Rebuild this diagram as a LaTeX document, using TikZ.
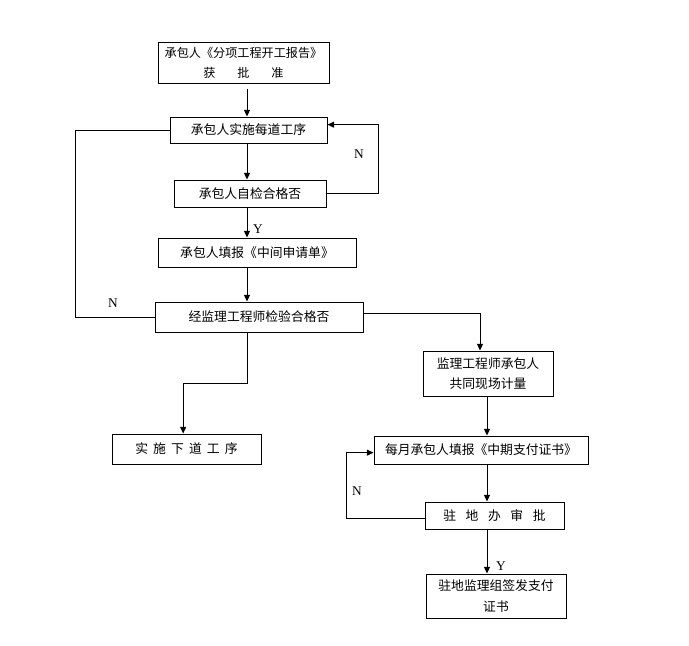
\documentclass[tikz,border=0pt]{standalone}
\usepackage{fontspec}
\setmainfont{Liberation Serif}
\newfontfamily\cjk{Noto Sans CJK SC}
\usetikzlibrary{arrows.meta}

\begin{document}
\begin{tikzpicture}[x=0.75pt,y=-0.75pt,line width=0.75pt,
    >={Triangle[length=5pt,width=4.5pt]}]

      \useasboundingbox (0,0) rectangle (689,646);
      \coordinate (col)  at (247,0);
      \coordinate (rcol) at (487,0);

      \begin{scope}[every node/.style={draw,inner sep=0pt,align=center,
          font=\cjk\fontsize{9.6}{15.5}\selectfont}]
        \node[minimum width=128.25pt,minimum height=30.75pt,font=\cjk\fontsize{9.1}{15}\selectfont] (report) at (243.5,62.5) {承包人《分项工程开工报告》\\获\hspace{1.8em}批\hspace{1.8em}准};
        \node[minimum width=117.75pt,minimum height=19.5pt]  (execute)   at (248.5,130)  {承包人实施每道工序};
        \node[minimum width=114pt,minimum height=20.25pt]    (selfcheck) at (250,193.5)  {承包人自检合格否};
        \node[minimum width=148.5pt,minimum height=21.75pt]  (apply)     at (257,252.5)  {承包人填报《中间申请单》};
        \node[minimum width=156pt,minimum height=22.5pt]     (verify)    at (259,317)    {经监理工程师检验合格否};
        \node[minimum width=97.5pt,minimum height=33.75pt]   (measure)   at (488,373.5)  {监理工程师承包人\\共同现场计量};
        \node[minimum width=111.75pt,minimum height=22.5pt]  (nextstep)  at (186.5,449)  {实\hspace{0.4em}施\hspace{0.4em}下\hspace{0.4em}道\hspace{0.4em}工\hspace{0.4em}序};
        \node[minimum width=160.5pt,minimum height=21pt]     (monthly)   at (481,450)    {每月承包人填报《中期支付证书》};
        \node[minimum width=104.25pt,minimum height=20.25pt] (approve)   at (494.5,515.5){驻\hspace{0.75em}地\hspace{0.75em}办\hspace{0.75em}审\hspace{0.75em}批};
        \node[minimum width=105pt,minimum height=33pt]       (certify)   at (496,596)    {驻地监理组签发支付\\证书};
      \end{scope}

      \begin{scope}[every node/.style={font=\fontsize{10}{12}\selectfont}]
        \node (n1) at (359,154) {N};
        \node (n2) at (113,303) {N};
        \node (n3) at (357,491) {N};
        \node (y1) at (258,229) {Y};
        \node (y2) at (501,566) {Y};
      \end{scope}

      % main column
      \draw[->] ([yshift=-4pt]report.south -| col) -- (execute.north -| col);
      \draw[->] (execute.south -| col) -- (selfcheck.north -| col);
      \draw[->] (selfcheck.south -| col) -- (apply.north -| col);
      \draw[->] (apply.south -| col) -- (verify.north -| col);
      \draw[->] (selfcheck.east) -- ++(52,0) |- ([yshift=4pt]execute.east);
      \draw (execute.west) -- ++(-94,0) |- (verify.west);
      \draw[->] (verify.south -| col) -- ++(0,51) -| ([xshift=-2.5pt]nextstep.north);

      % right column
      \draw[->] ([yshift=3pt]verify.east) -| ([xshift=-6pt]measure.north);
      \draw[->] (measure.south -| rcol) -- (monthly.north -| rcol);
      \draw[->] (monthly.south -| rcol) -- (approve.north -| rcol);
      \draw[->] (approve.south -| rcol) -- (certify.north -| rcol);
      \draw[->] ([yshift=-2pt]approve.west) -- ++(-78,0) |- ([yshift=-2pt]monthly.west);

    \end{tikzpicture}
\end{document}
